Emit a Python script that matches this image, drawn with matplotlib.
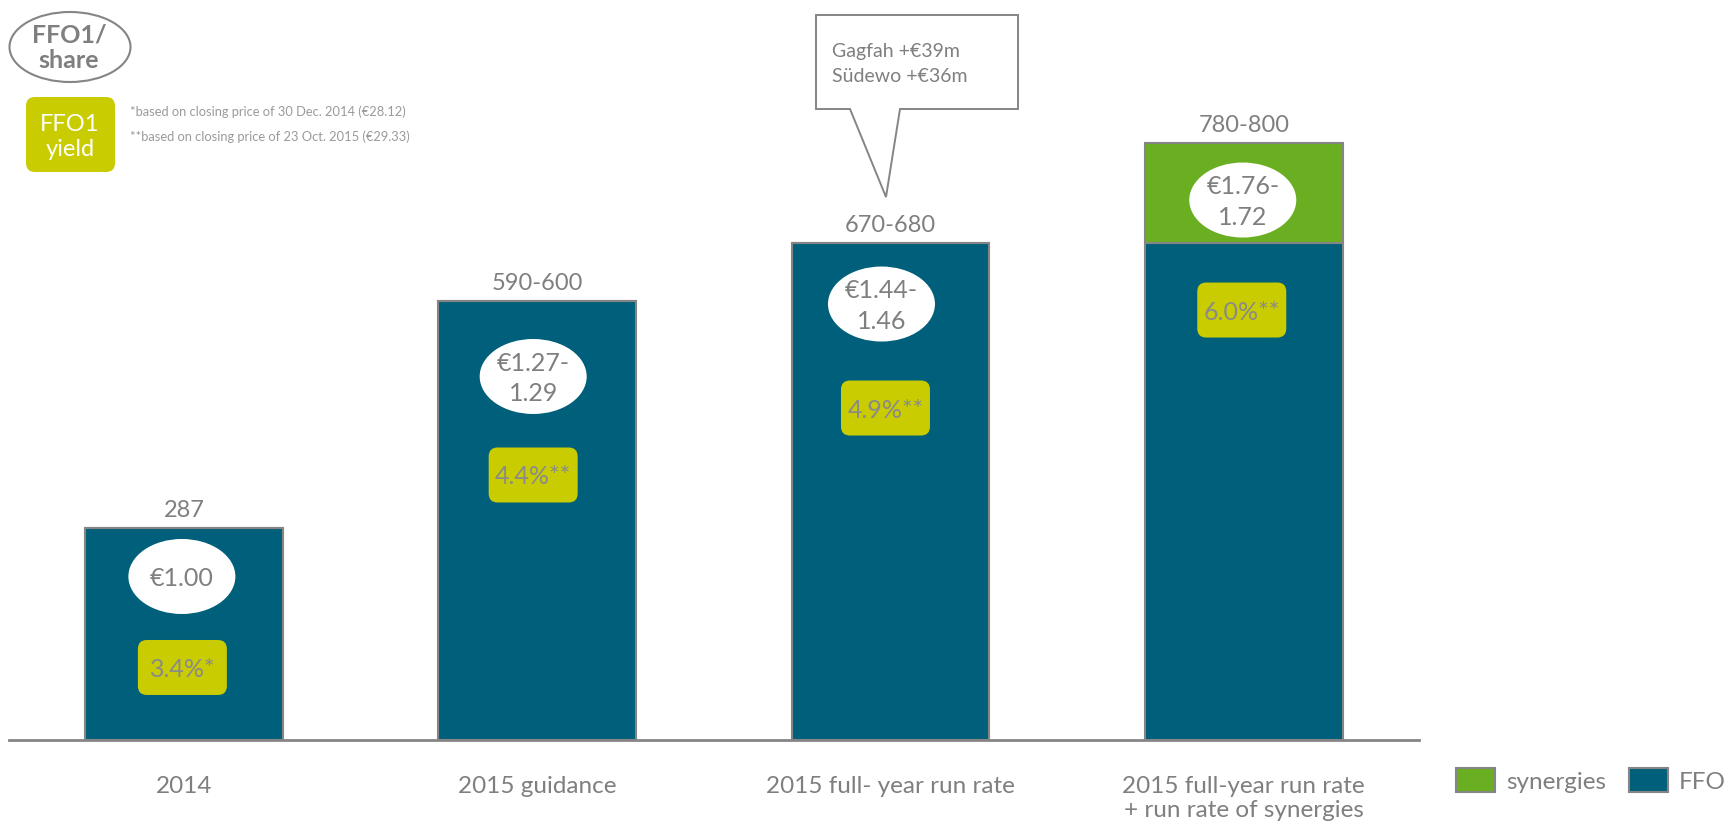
import matplotlib
matplotlib.use("Agg")
import matplotlib.pyplot as plt
from matplotlib.patches import Ellipse, FancyBboxPatch, Polygon, Patch

# ---------------- data ----------------
categories = ["2014", "2015 guidance", "2015 full- year run rate",
              "2015 full-year run rate\n+ run rate of synergies"]
ffo = [287, 595, 675, 675]
synergies = [0, 0, 0, 135]
value_labels = ["287", "590-600", "670-680", "780-800"]
ffo_per_share = ["€1.00", "€1.27-\n1.29", "€1.44-\n1.46", "€1.76-\n1.72"]
ffo_yield = ["3.4%*", "4.4%**", "4.9%**", "6.0%**"]
callout_lines = ["Gagfah +€39m", "Südewo +€36m"]
footnotes = ["*based on closing price of 30 Dec. 2014 (€28.12)",
             "**based on closing price of 23 Oct. 2015 (€29.33)"]

# ---------------- style ----------------
FFO_C = "#005f7a"
SYN_C = "#6aae22"
YEL_C = "#c8cc00"
GRAY = "#7f7f7f"
EDGE = "#858585"
FONT = ["Lato", "DejaVu Sans"]
plt.rcParams["font.family"] = FONT

W, H = 1735, 828
fig = plt.figure(figsize=(W / 100, H / 100), dpi=100)

base_px = 741
ax = fig.add_axes([9 / W, (H - base_px) / H, 1410 / W, base_px / H])
ax.set_xlim(-0.495, 3.496)
ax.set_ylim(0, base_px / 0.737)

x = list(range(len(categories)))
bw = 0.56
ax.bar(x, ffo, width=bw, color=FFO_C, edgecolor=EDGE, linewidth=1.5, zorder=2, label="FFO")
ax.bar(x, synergies, width=bw, bottom=ffo, color=SYN_C, edgecolor=EDGE, linewidth=1.5,
       zorder=2, label="synergies")

for s in ["top", "left", "right"]:
    ax.spines[s].set_visible(False)
ax.spines["bottom"].set_color(EDGE)
ax.spines["bottom"].set_linewidth(2)
ax.set_yticks([])
ax.set_xticks(x)
ax.set_xticklabels(categories, fontsize=17.5, color=GRAY, linespacing=1.2)
ax.tick_params(axis="x", length=0, pad=25)

# ---------------- overlay in pixel coordinates ----------------
ov = fig.add_axes([0, 0, 1, 1], zorder=5)
ov.set_xlim(0, W)
ov.set_ylim(H, 0)
ov.axis("off")
ov.patch.set_alpha(0)


def to_px(xd, yd):
    dx, dy = ax.transData.transform((xd, yd))
    return dx, H - dy


# layout offsets (pixels) of the badges relative to bar top-centre
ell_off = [(-2, 48), (-4, 75), (-9, 61.5), (-1, 57)]
yel_off = [(-1.5, 139), (-4, 173.5), (-5, 165.5), (-2, 167)]

for i in x:
    total = ffo[i] + synergies[i]
    cx, ty = to_px(i, total)
    ov.text(cx, ty - 12, value_labels[i], ha="center", va="baseline",
            fontsize=17, color=GRAY)
    ex, ey = cx + ell_off[i][0], ty + ell_off[i][1]
    ov.add_patch(Ellipse((ex, ey), 107, 75, facecolor="white", edgecolor="none"))
    ov.text(ex, ey + 1, ffo_per_share[i], ha="center", va="center", fontsize=18,
            color=GRAY, linespacing=1.4)
    yx, yy = cx + yel_off[i][0], ty + yel_off[i][1]
    ov.add_patch(FancyBboxPatch((yx - 44.5, yy - 27.5), 89, 55,
                                boxstyle="round,pad=0,rounding_size=9",
                                facecolor=YEL_C, edgecolor="none"))
    ov.text(yx, yy + 1, ffo_yield[i], ha="center", va="center", fontsize=18,
            color="#8a8a8a")

# callout
callout = Polygon([(816, 16), (1018, 16), (1018, 110), (900, 110), (886, 198),
                   (850, 110), (816, 110)], closed=True, facecolor="white",
                  edgecolor=EDGE, linewidth=1.4)
ov.add_patch(callout)
ov.text(832, 52, callout_lines[0], ha="left", va="center", fontsize=14, color=GRAY)
ov.text(832, 76, callout_lines[1], ha="left", va="center", fontsize=14, color=GRAY)

# top-left key
ov.add_patch(Ellipse((70, 48), 121, 70, facecolor="white", edgecolor=EDGE, linewidth=1.5))
ov.text(69, 48, "FFO1/\nshare", ha="center", va="center", fontsize=18,
        fontweight="bold", color=GRAY, linespacing=1.15)
ov.add_patch(FancyBboxPatch((26, 98), 89, 75, boxstyle="round,pad=0,rounding_size=9",
                            facecolor=YEL_C, edgecolor="none"))
ov.text(70, 137, "FFO1\nyield", ha="center", va="center", fontsize=17,
        color="white", linespacing=1.2)
ov.text(130, 112, footnotes[0], ha="left", va="center", fontsize=9.3, color="#9a9a9a")
ov.text(130, 137, footnotes[1], ha="left", va="center", fontsize=9.3, color="#9a9a9a")

# legend
handles = [Patch(facecolor=SYN_C, edgecolor=EDGE, linewidth=1.5),
           Patch(facecolor=FFO_C, edgecolor=EDGE, linewidth=1.5)]
fig.legend(handles, ["synergies", "FFO"], loc="center left",
           bbox_to_anchor=(1456 / W, 1 - 781 / H), ncol=2, frameon=False,
           fontsize=17.5, handlelength=1.6, handleheight=1.15, handletextpad=0.45,
           columnspacing=0.95, borderpad=0, borderaxespad=0, labelcolor=GRAY)

fig.savefig("out.png", dpi=100)
